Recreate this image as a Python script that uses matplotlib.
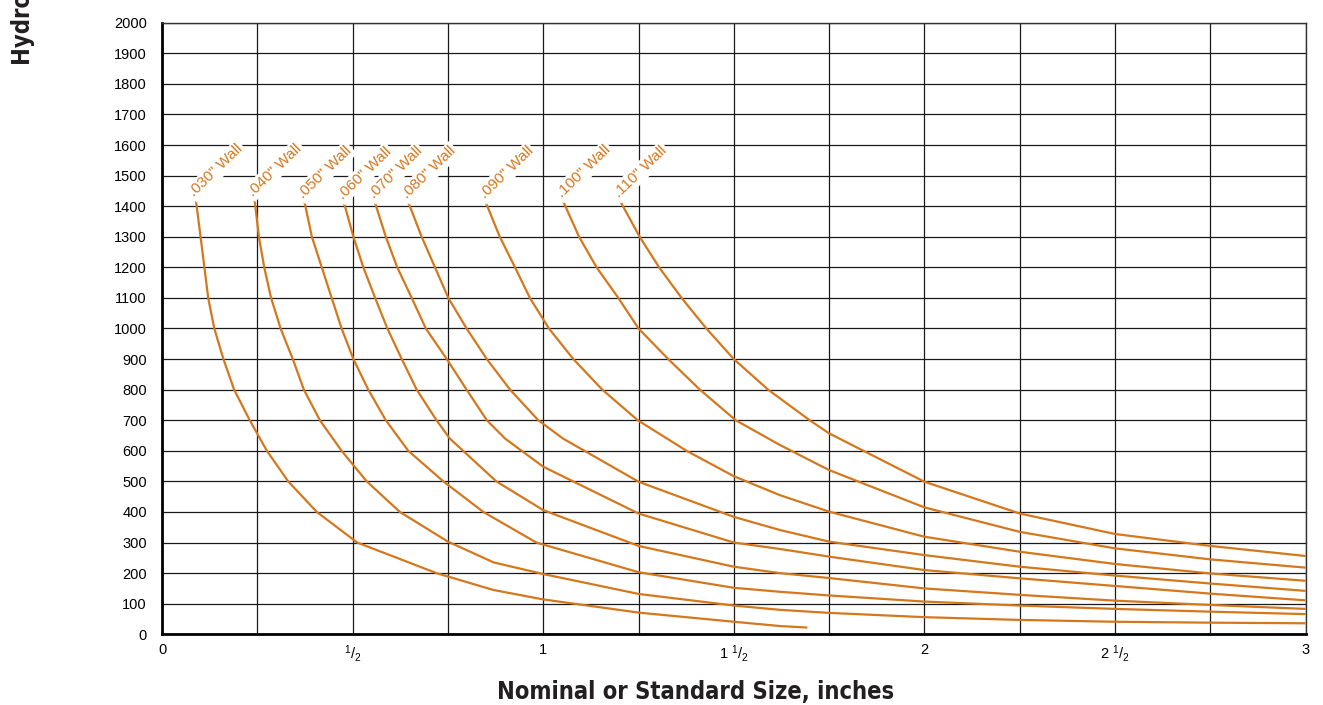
import matplotlib
matplotlib.use("Agg")
import matplotlib.pyplot as plt
from matplotlib import font_manager

plt.rcParams['font.family'] = ['Liberation Sans', 'DejaVu Sans']
plt.rcParams['mathtext.fontset'] = 'custom'
plt.rcParams['mathtext.rm'] = 'Liberation Sans'
plt.rcParams['mathtext.default'] = 'regular'

# curves: (size in inches, pressure)
w030_x = [0.089, 0.101, 0.111, 0.121, 0.137, 0.161, 0.189, 0.230, 0.275, 0.331, 0.406, 0.512,
          0.72, 0.869, 1.0, 1.25, 1.5, 1.621, 1.693]
w030_y = [1417, 1300, 1200, 1100, 1000, 900, 800, 700, 600, 500, 400, 300,
          200, 145, 114, 71, 41, 27, 22]

w040_x = [0.243, 0.254, 0.268, 0.286, 0.311, 0.343, 0.372, 0.414, 0.471, 0.537, 0.624, 0.75,
          0.87, 1.0, 1.25, 1.5, 1.621, 1.75, 2.0, 2.25, 2.5, 2.75, 3.0]
w040_y = [1419, 1300, 1200, 1100, 1000, 900, 800, 700, 600, 500, 400, 303,
          235, 197, 132, 94, 80, 70, 56, 47, 41, 38, 36]

w050_x = [0.374, 0.393, 0.419, 0.445, 0.471, 0.502, 0.541, 0.587, 0.646, 0.738, 0.843, 0.982,
          1.25, 1.5, 1.621, 1.75, 2.0, 2.25, 2.5, 2.75, 3.0]
w050_y = [1412, 1300, 1200, 1100, 1000, 900, 800, 700, 600, 500, 400, 300,
          203, 152, 139, 127, 107, 94, 83, 74, 66]

w060_x = [0.478, 0.502, 0.528, 0.559, 0.591, 0.629, 0.668, 0.72, 0.755, 0.877, 1.0,
          1.25, 1.5, 1.621, 1.75, 2.0, 2.25, 2.5, 2.75, 3.0]
w060_y = [1408, 1300, 1200, 1100, 1000, 900, 800, 700, 640, 500, 406,
          289, 221, 200, 184, 150, 129, 110, 96, 83]

w070_x = [0.559, 0.587, 0.617, 0.655, 0.692, 0.747, 0.799, 0.852, 0.9, 1.0,
          1.25, 1.5, 1.621, 1.75, 2.0, 2.25, 2.5, 2.75, 3.0]
w070_y = [1410, 1300, 1200, 1100, 1000, 900, 800, 700, 640, 548,
          395, 300, 279, 254, 210, 183, 158, 133, 111]

w080_x = [0.647, 0.681, 0.716, 0.751, 0.799, 0.852, 0.913, 0.987, 1.052,
          1.25, 1.5, 1.621, 1.75, 2.0, 2.25, 2.5, 2.75, 3.0]
w080_y = [1410, 1300, 1200, 1100, 1000, 900, 800, 700, 640,
          499, 384, 341, 303, 259, 221, 192, 166, 142]

w090_x = [0.85, 0.886, 0.926, 0.965, 1.015, 1.079, 1.155, 1.248,
          1.376, 1.5, 1.621, 1.75, 2.0, 2.25, 2.5, 2.75, 3.0]
w090_y = [1410, 1300, 1200, 1100, 1000, 900, 800, 700,
          600, 517, 455, 401, 319, 270, 230, 199, 175]

w100_x = [1.053, 1.094, 1.14, 1.197, 1.25, 1.328, 1.411, 1.505,
          1.621, 1.75, 2.0, 2.25, 2.5, 2.75, 3.0]
w100_y = [1414, 1300, 1200, 1100, 1000, 900, 800, 700,
          619, 537, 415, 335, 281, 245, 218]

w110_x = [1.203, 1.253, 1.304, 1.363, 1.428, 1.5, 1.59, 1.699,
          1.75, 2.0, 2.25, 2.5, 2.75, 3.0]
w110_y = [1414, 1300, 1200, 1100, 1000, 900, 800, 700,
          657, 499, 395, 328, 289, 256]

wall_labels = ['.030" Wall', '.040" Wall', '.050" Wall', '.060" Wall', '.070" Wall',
               '.080" Wall', '.090" Wall', '.100" Wall', '.110" Wall']

x_ticks = [0, 0.25, 0.5, 0.75, 1, 1.25, 1.5, 1.75, 2, 2.25, 2.5, 2.75, 3]
x_ticklabels = ['0', '', r'$^1/_2$', '', '1', '', r'1 $^1/_2$', '', '2', '', r'2 $^1/_2$', '', '3']
y_ticks = list(range(0, 2001, 100))

curves = [(w030_x, w030_y), (w040_x, w040_y), (w050_x, w050_y), (w060_x, w060_y),
          (w070_x, w070_y), (w080_x, w080_y), (w090_x, w090_y), (w100_x, w100_y),
          (w110_x, w110_y)]

orange = '#D4781E'

# bold condensed face for the axis titles
cond_file = font_manager.findfont(
    font_manager.FontProperties(family='DejaVu Sans', weight='bold', stretch='condensed'))
cond_prop = font_manager.FontProperties(fname=cond_file, size=17)

fig = plt.figure(figsize=(13.23, 7.05), dpi=100)
ax = fig.add_axes([0.1225, 0.1003, 0.8643, 0.8675])

for (xs, ys), label in zip(curves, wall_labels):
    ax.plot(xs, ys, color=orange, lw=1.6, solid_capstyle='butt', solid_joinstyle='round', zorder=3)
    ax.text(xs[0] - 0.004, ys[0] + 12, label, color=orange, fontsize=11,
            rotation=44, rotation_mode='anchor', ha='left', va='baseline', zorder=4,
            bbox=dict(facecolor='white', edgecolor='none', pad=1.5))

ax.set_xlim(0, 3)
ax.set_ylim(0, 2000)
ax.set_xticks(x_ticks)
ax.set_xticklabels(x_ticklabels, fontsize=10.5)
ax.set_yticks(y_ticks)
ax.set_yticklabels([str(v) for v in y_ticks], fontsize=10.5)
ax.tick_params(axis='both', length=0)
ax.tick_params(axis='y', pad=11)
ax.tick_params(axis='x', pad=6)

ax.grid(True, color='#1a1a1a', lw=0.9, zorder=1)
ax.set_axisbelow(True)
for side in ['left', 'bottom']:
    ax.spines[side].set_linewidth(2.0)
    ax.spines[side].set_color('black')
for side in ['top', 'right']:
    ax.spines[side].set_linewidth(1.0)
    ax.spines[side].set_color('#333333')

fig.text(696 / 1323, (705 - 699) / 705, 'Nominal or Standard Size, inches',
         fontproperties=cond_prop, ha='center', va='baseline', color='#231f20')
fig.text(35 / 1323, 1 - 65 / 705, 'Hydrostatic Burst Pressure, psi',
         fontproperties=cond_prop, rotation=90,
         ha='right', va='bottom', color='#231f20')

fig.savefig('out.png', dpi=100)
